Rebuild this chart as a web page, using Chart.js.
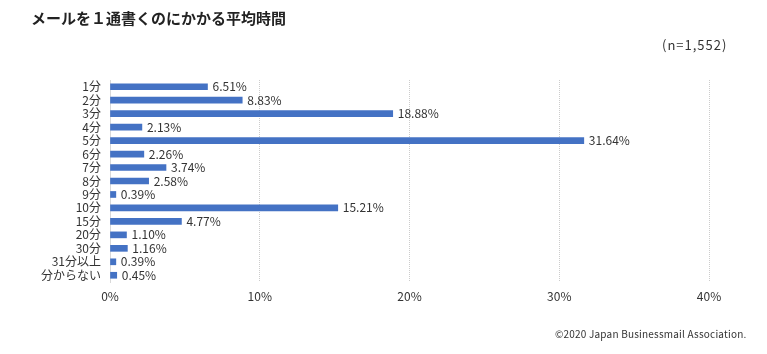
<!DOCTYPE html>
<html>
<head>
<meta charset="utf-8">
<script src="https://cdn.jsdelivr.net/npm/chart.js@4/dist/chart.umd.min.js"></script>
<style>
  html, body { margin: 0; padding: 0; background: #fff; }
  body { width: 767px; height: 354px; position: relative; overflow: hidden; font-family: "Noto Sans CJK JP", sans-serif; }
  #wrap { position: absolute; left: 0; top: 0; width: 767px; height: 354px; }
  .txt { position: absolute; color: #222; white-space: nowrap; }
  #title { left: 31px; top: 7px; font-size: 15px; font-weight: bold; }
  #n { left: 662px; top: 35px; font-size: 13px; color: #333; letter-spacing: 1px; }
  #foot { left: 555px; top: 326px; font-size: 10px; color: #333; letter-spacing: 0.2px; }
</style>
</head>
<body>
<div id="wrap"><canvas id="chart" width="767" height="354"></canvas></div>
<div class="txt" id="title">メールを１通書くのにかかる平均時間</div>
<div class="txt" id="n">(n=1,552)</div>
<div class="txt" id="foot">©2020 Japan Businessmail Association.</div>
<script>
const categories = ["1分", "2分", "3分", "4分", "5分", "6分", "7分", "8分", "9分", "10分", "15分", "20分", "30分", "31分以上", "分からない"];
const percents = [6.51, 8.83, 18.88, 2.13, 31.64, 2.26, 3.74, 2.58, 0.39, 15.21, 4.77, 1.10, 1.16, 0.39, 0.45];
const xTicks = [0, 10, 20, 30, 40];

const fontFamily = '"Noto Sans CJK JP", sans-serif';

// value labels at the end of each bar
const barLabels = {
  id: 'barLabels',
  afterDatasetsDraw(chart) {
    const ctx = chart.ctx;
    const meta = chart.getDatasetMeta(0);
    ctx.save();
    ctx.font = '12px ' + fontFamily;
    ctx.fillStyle = '#333';
    ctx.textBaseline = 'middle';
    ctx.textAlign = 'left';
    meta.data.forEach((bar, i) => {
      ctx.fillText(percents[i].toFixed(2) + '%', bar.x + 5, bar.y);
    });
    ctx.restore();
  }
};

new Chart(document.getElementById('chart'), {
  type: 'bar',
  data: {
    labels: categories,
    datasets: [{
      data: percents,
      backgroundColor: '#4472C4',
      barThickness: 6
    }]
  },
  options: {
    indexAxis: 'y',
    responsive: false,
    animation: false,
    layout: { padding: { top: 80, right: 58, bottom: 0, left: 0 } },
    scales: {
      x: {
        min: 0,
        max: 40,
        afterFit: s => { s.height = 72; },
        afterBuildTicks: s => { s.ticks = xTicks.map(v => ({ value: v })); },
        grid: { color: '#cccccc', drawTicks: false },
        border: { display: false, dash: [1, 1] },
        ticks: {
          padding: 7,
          color: '#333',
          font: { family: fontFamily, size: 12 },
          callback: v => v + '%'
        }
      },
      y: {
        afterFit: s => { s.width = 110; },
        grid: { display: false, drawTicks: false },
        border: { display: true, color: '#d9d9d9' },
        ticks: {
          padding: 9,
          color: '#333',
          autoSkip: false,
          font: { family: fontFamily, size: 12 }
        }
      }
    },
    plugins: {
      legend: { display: false },
      tooltip: { enabled: false }
    }
  },
  plugins: [barLabels]
});
</script>
</body>
</html>
